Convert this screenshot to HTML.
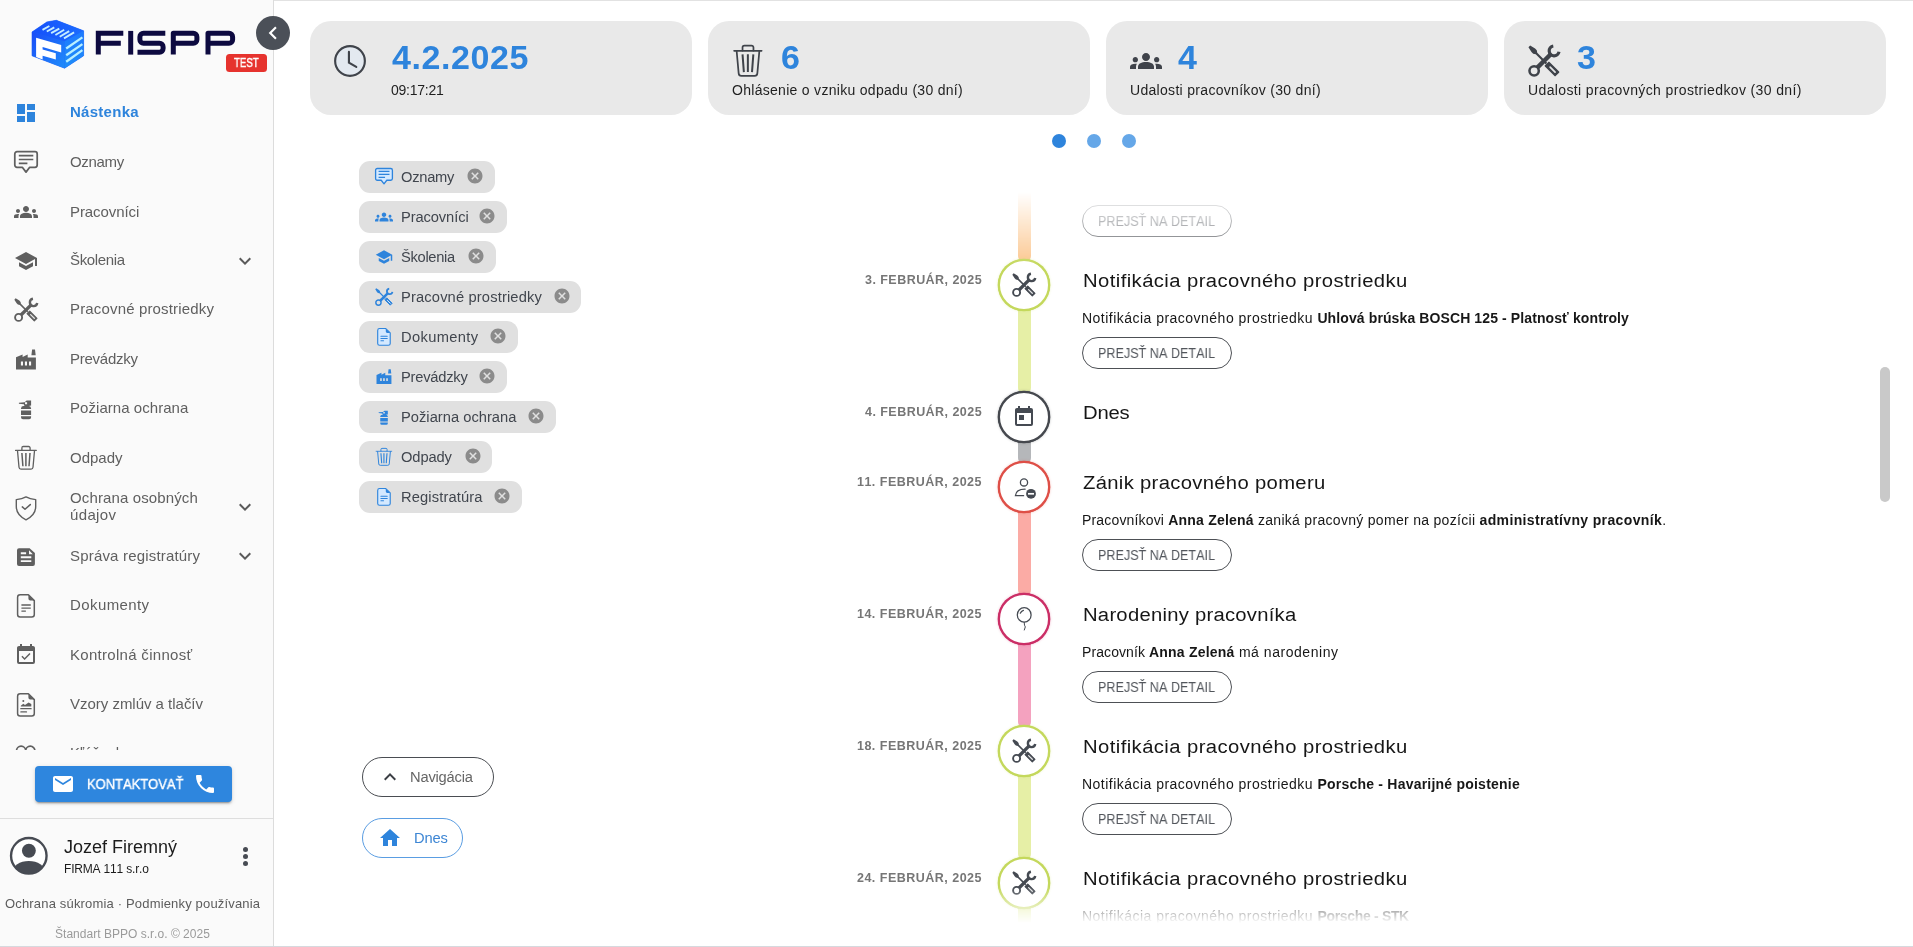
<!DOCTYPE html>
<html lang="sk"><head><meta charset="utf-8"><title>FISPP</title>
<style>
*{box-sizing:border-box;margin:0;padding:0}
html,body{width:1913px;height:947px;overflow:hidden;background:#fff;font-family:"Liberation Sans",sans-serif;}
body{position:relative}
.t{position:absolute;white-space:nowrap;line-height:1;font-kerning:none;will-change:transform}
.ic{position:absolute;display:block;overflow:visible}
.abs{position:absolute}
#side{position:absolute;left:0;top:0;width:274px;height:947px;background:#fafafa;border-right:1px solid #dcdcdc}
#nav{position:absolute;left:0;top:84px;width:273px;height:666px;overflow:hidden}
.card{position:absolute;top:21px;width:382px;height:94px;background:#e9e9e9;border-radius:21px}
.chip{position:absolute;left:359px;height:32px;border-radius:11px;background:#e0e0e0}
.pill{position:absolute;border:1px solid #4a4d52;border-radius:20px;background:#fff}
.seg{position:absolute;left:1018px;width:13px;border-radius:6px}
.dot{position:absolute;left:998px;width:52px;height:52px;border-radius:50%;background:#fff;border:2px solid #c5d94f}
#tl{position:absolute;left:820px;top:192px;width:1060px;height:734px;overflow:hidden;
 -webkit-mask-image:linear-gradient(to bottom,transparent 0,#000 73px,#000 695px,transparent 731px);
 mask-image:linear-gradient(to bottom,transparent 0,#000 73px,#000 695px,transparent 731px)}
#tli{position:absolute;left:-820px;top:-192px;width:1913px;height:947px}
</style></head><body>

<div class="abs" style="left:0;top:0;width:1913px;height:1px;background:#e2e2e2"></div>
<div id="side">
<svg class="ic" style="left:30px;top:18px;width:58px;height:54px" viewBox="30 18 58 54">
<defs><linearGradient id="lg1" x1="0" y1="0" x2="1" y2="1"><stop offset="0" stop-color="#1a4cf8"/><stop offset="1" stop-color="#1f8cfa"/></linearGradient>
<linearGradient id="lg2" x1="0" y1="0" x2="0" y2="1"><stop offset="0" stop-color="#1d7bff"/><stop offset="1" stop-color="#1f8df8"/></linearGradient>
<linearGradient id="lg3" x1="0" y1="0" x2="1" y2="0"><stop offset="0" stop-color="#1650fa"/><stop offset="1" stop-color="#1b6cff"/></linearGradient></defs>
<path fill="#1c62f8" stroke="#1c62f8" stroke-width=".6" d="M32 32L46.900 21.900L56.400 20.300L83.600 30.800V55.800L64.600 68.200L32 55.800Z"/>
<path fill="url(#lg3)" d="M32 32L46.900 21.900L56.400 20.300L83.600 30.800L64.600 41.300Z"/>
<path fill="url(#lg1)" d="M32 32L64.600 41.300V68.200L32 55.800Z"/>
<path fill="url(#lg2)" d="M64.600 41.300L83.600 30.800V55.800L64.600 68.200Z"/>
<g stroke="#c4ecff" stroke-width="1.900"><path d="M42.500 29.800L49.400 26M46.800 31.500L54.300 27.300M51.100 33.200L59.300 28.600M55.400 35L64.200 29.800M59.700 36.700L69.200 31.100M64 38.400L74.100 32.400"/></g>
<g stroke="#b8efff" stroke-width="2.300"><path d="M66.200 48.500L82.400 37.400M66.200 55.200L82.400 44.100M66.200 61.800L82.400 50.100"/></g>
<path fill="#fff" d="M36.100 37.800L61.200 45V52.600L42.600 47V49.400L55.800 53.200V59.600L42.600 55.800V59.400L36.100 57Z"/>
</svg>
<svg class="ic" style="left:92px;top:28px;width:148px;height:30px" viewBox="92 28 148 30">
<g fill="none" stroke="#0d0a40" stroke-width="5" stroke-linejoin="round">
<path stroke-linejoin="miter" d="M98.300 54.600V33.300H123.300M98.300 43.300H120.800"/>
<path d="M130.700 30.900V54.600"/>
<path d="M165.300 33.300H143.500a3.600 3.600 0 0 0-3.600 3.600v2.800a3.600 3.600 0 0 0 3.600 3.600H159.500a3.600 3.600 0 0 1 3.600 3.600v1.700a3.600 3.600 0 0 1-3.600 3.600H137.500"/>
<path d="M173.300 54.600V33.300H193.300a3.600 3.600 0 0 1 3.600 3.600v2.800a3.600 3.600 0 0 1-3.600 3.600H173.300"/>
<path d="M208 54.600V33.300H229a3.600 3.600 0 0 1 3.600 3.600v2.800a3.600 3.600 0 0 1-3.600 3.600H208"/>
</g></svg>
<div class="abs" style="left:226px;top:54px;width:41px;height:18px;background:#e6332e;border-radius:3.500px"></div>
<span id="t1" class="t" style="left:233.60px;top:57px;font-size:12px;font-weight:400;color:#fff;letter-spacing:0.000px;transform:scaleX(0.8073);transform-origin:0 0;-webkit-text-stroke:.450px #fff;">TEST</span>
<div id="nav"><div class="abs" style="left:0;top:-84px;width:273px;height:947px">
<svg class="ic" style="left:14px;top:100.5px;width:24px;height:24px;color:#2e84dc;" viewBox="0 0 24 24"><path fill="currentColor" d="M13,3V9H21V3M13,21H21V11H13M3,21H11V15H3M3,13H11V3H3V13Z"/></svg>
<span id="t2" class="t" style="left:70.10px;top:104px;font-size:15px;font-weight:700;color:#2e84dc;letter-spacing:0.277px;">Nástenka</span>
<svg class="ic" style="left:14px;top:150.5px;width:24px;height:24px;color:#5f5f5f;" viewBox="0 0 24 24"><path fill="none" stroke="currentColor" stroke-width="1.750" stroke-linejoin="round" d="M3 .700h18a2.200 2.200 0 0 1 2.200 2.200v11.200a2.200 2.200 0 0 1-2.200 2.200h-5.300l-3.700 4.800l-3.700-4.800H3a2.200 2.200 0 0 1-2.200-2.200V2.900A2.200 2.200 0 0 1 3 .700Z"/><path fill="none" stroke="currentColor" stroke-width="1.600" d="M4.800 4.600h14.500M4.800 8.500h14.500M4.800 12.400h8.600"/></svg>
<span id="t3" class="t" style="left:70.10px;top:154px;font-size:15px;font-weight:400;color:#5f5f5f;letter-spacing:-0.329px;">Oznamy</span>
<svg class="ic" style="left:14px;top:199.6px;width:24px;height:24px;color:#5f5f5f;" viewBox="0 0 24 24"><path fill="currentColor" d="M12 12.75c1.63 0 3.07.39 4.24.9 1.08.48 1.76 1.56 1.76 2.73V18H6v-1.61c0-1.18.68-2.26 1.76-2.73 1.17-.52 2.61-.91 4.24-.91zM4 13c1.1 0 2-.9 2-2s-.9-2-2-2-2 .9-2 2 .9 2 2 2zm1.13 1.1c-.37-.06-.74-.1-1.13-.1-.99 0-1.93.21-2.78.58C.48 14.9 0 15.62 0 16.43V18h4.5v-1.61c0-.83.23-1.61.63-2.29zM20 13c1.1 0 2-.9 2-2s-.9-2-2-2-2 .9-2 2 .9 2 2 2zm4 3.43c0-.81-.48-1.53-1.22-1.85-.85-.37-1.79-.58-2.78-.58-.39 0-.76.04-1.13.1.4.68.63 1.46.63 2.29V18H24v-1.57zM12 6c1.66 0 3 1.34 3 3s-1.34 3-3 3-3-1.34-3-3 1.34-3 3-3z"/></svg>
<span id="t4" class="t" style="left:70.10px;top:204px;font-size:15px;font-weight:400;color:#5f5f5f;letter-spacing:-0.077px;">Pracovníci</span>
<svg class="ic" style="left:14px;top:249.0px;width:24px;height:24px;color:#5f5f5f;" viewBox="0 0 24 24"><path fill="currentColor" d="M12,3L1,9L12,15L21,10.09V17H23V9M5,13.18V17.18L12,21L19,17.18V13.18L12,17L5,13.18Z"/></svg>
<span id="t5" class="t" style="left:70.10px;top:252px;font-size:15px;font-weight:400;color:#5f5f5f;letter-spacing:-0.342px;">Školenia</span>
<svg class="ic" style="left:233px;top:248.6px;width:24px;height:24px;color:#5a5a5a;" viewBox="0 0 24 24"><path fill="currentColor" d="M7.410,8.580L12,13.170L16.590,8.580L18,10L12,16L6,10L7.410,8.580Z"/></svg>
<svg class="ic" style="left:14px;top:298.0px;width:24px;height:24px;color:#5f5f5f;" viewBox="0 0 24 24"><path fill="currentColor" d="M1.630 .350L5.300 2.620L6.580 3.890L6.930 5.800L14.350 13.220L13.220 14.350L5.800 6.930L3.890 6.580L2.620 5.300L.350 1.630Z"/><path fill="currentColor" stroke="currentColor" stroke-width="1.200" stroke-linejoin="round" d="M15.700 13.100L22.900 20.300L20.300 22.900L13.100 15.700Z"/><path fill="none" stroke="#fff" stroke-opacity=".85" stroke-width="1.300" stroke-linecap="round" d="M16.600 16.600L20.300 20.300"/><g fill="none" stroke="currentColor"><path stroke-width="3.300" d="M7 17L17.600 6.400"/><circle cx="4.600" cy="19.400" r="3.500" stroke-width="1.900"/><path stroke-width="2.400" d="M18.960 .760A3.700 3.700 0 1 0 23.240 5.040"/></g></svg>
<span id="t6" class="t" style="left:70.10px;top:301px;font-size:15px;font-weight:400;color:#5f5f5f;letter-spacing:0.158px;">Pracovné prostriedky</span>
<svg class="ic" style="left:14px;top:347.5px;width:24px;height:24px;color:#5f5f5f;" viewBox="0 0 24 24"><path fill="currentColor" fill-rule="evenodd" d="M2 21.400V9.300L8.600 6.400V8.900L13.700 6.400V9.600H21.900V21.400ZM6.900 13.500v3.900h2.100v-3.900ZM10.900 13.500v3.900h2.100v-3.900ZM15 13.500v3.900h2.100v-3.900ZM18.100 1.600h2.900l.7 5.700h-4.300Z"/></svg>
<span id="t7" class="t" style="left:70.10px;top:351px;font-size:15px;font-weight:400;color:#5f5f5f;letter-spacing:-0.253px;">Prevádzky</span>
<svg class="ic" style="left:14px;top:396.8px;width:24px;height:24px;color:#5f5f5f;" viewBox="0 0 24 24"><path fill="currentColor" fill-rule="evenodd" d="M4.900 5.700L10.600 5.200L12.600 3.600H17.100V8.600L14.600 9.100H10.500L9.800 7.200L4.900 6.700ZM11 5.200h2.100v2.100h-2.100ZM7 12.100V11.400a2.600 2.600 0 0 1 2.600-2.400h4.900a2.600 2.600 0 0 1 2.600 2.400V12.100ZM7 13.400H17.100V18H7ZM7 19.300H17.100V20.300a2 2 0 0 1-2 2H9a2 2 0 0 1-2-2Z"/></svg>
<span id="t8" class="t" style="left:70.10px;top:400px;font-size:15px;font-weight:400;color:#5f5f5f;letter-spacing:0.051px;">Požiarna ochrana</span>
<svg class="ic" style="left:14px;top:446.1px;width:24px;height:24px;color:#5f5f5f;" viewBox="0 0 24 24"><g fill="none" stroke="currentColor" stroke-linecap="round" stroke-linejoin="round"><path stroke-width="1.300" d="M7.900 4.200V1.900a1.400 1.400 0 0 1 1.400-1.400h5.400a1.400 1.400 0 0 1 1.400 1.400V4.200"/><path stroke-width="1.150" d="M1.500 4.400H22.300"/><path stroke-width="1.300" d="M3.500 4.700L5 21.300a2 2 0 0 0 2 1.800H17a2 2 0 0 0 2-1.800L20.500 4.700"/><path stroke-width="1.500" stroke-linecap="butt" d="M7.900 7L8.900 20.300M11.900 7V20.300M16 7L15 20.300"/></g></svg>
<span id="t9" class="t" style="left:70.10px;top:450px;font-size:15px;font-weight:400;color:#5f5f5f;letter-spacing:-0.007px;">Odpady</span>
<svg class="ic" style="left:14px;top:495.5px;width:24px;height:24px;color:#5f5f5f;" viewBox="0 0 24 24"><g fill="none" stroke="currentColor" stroke-linejoin="round" stroke-linecap="round"><path stroke-width="1.400" d="M12 .9C9 2.600 5.500 3.300 2.300 3.600V10.500c0 6 3.800 10.400 9.700 13.300c5.900-2.900 9.700-7.300 9.700-13.300V3.600C18.500 3.300 15 2.600 12 .9Z"/><path stroke-width="1.500" d="M8.300 10.900l2.700 2.400L16.300 8.600"/></g></svg>
<span id="t10" class="t" style="left:70.10px;top:490px;font-size:15px;font-weight:400;color:#5f5f5f;letter-spacing:0.129px;">Ochrana osobných</span>
<span id="t11" class="t" style="left:70.10px;top:507px;font-size:15px;font-weight:400;color:#5f5f5f;letter-spacing:0.360px;">údajov</span>
<svg class="ic" style="left:233px;top:495.1px;width:24px;height:24px;color:#5a5a5a;" viewBox="0 0 24 24"><path fill="currentColor" d="M7.410,8.580L12,13.170L16.590,8.580L18,10L12,16L6,10L7.410,8.580Z"/></svg>
<svg class="ic" style="left:14px;top:544.8px;width:24px;height:24px;color:#5f5f5f;" viewBox="0 0 24 24"><path fill="currentColor" fill-rule="evenodd" d="M5 3.200h10.600L20.900 8.100V19a2 2 0 0 1-2 2H5a2 2 0 0 1-2-2V5.200a2 2 0 0 1 2-2ZM6.800 7.300h5.300v1.900H6.800ZM6.800 11.300h10.500v1.900H6.800ZM6.800 15.200h10.500v1.900H6.800ZM15 5.300L18.800 9.150H15Z"/></svg>
<span id="t12" class="t" style="left:70.10px;top:548px;font-size:15px;font-weight:400;color:#5f5f5f;letter-spacing:0.182px;">Správa registratúry</span>
<svg class="ic" style="left:233px;top:544.4px;width:24px;height:24px;color:#5a5a5a;" viewBox="0 0 24 24"><path fill="currentColor" d="M7.410,8.580L12,13.170L16.590,8.580L18,10L12,16L6,10L7.410,8.580Z"/></svg>
<svg class="ic" style="left:14px;top:594.1px;width:24px;height:24px;color:#5f5f5f;" viewBox="0 0 24 24"><path fill="none" stroke="currentColor" stroke-width="1.500" stroke-linejoin="round" d="M6.100 .7h8.300l5.900 5.900v13.900a2.500 2.500 0 0 1-2.500 2.500H6.100a2.500 2.500 0 0 1-2.500-2.500V3.200a2.500 2.500 0 0 1 2.500-2.500Z"/><path fill="currentColor" d="M14.400 .9V4.600a1.900 1.900 0 0 0 1.900 1.900h3.900Z"/><path fill="none" stroke="currentColor" stroke-width="1.400" stroke-linecap="round" d="M7.900 11h8.400M7.900 14.100h8.400M7.900 17.100h3.500"/></svg>
<span id="t13" class="t" style="left:70.10px;top:597px;font-size:15px;font-weight:400;color:#5f5f5f;letter-spacing:0.404px;">Dokumenty</span>
<svg class="ic" style="left:14px;top:642.5px;width:24px;height:24px;color:#5f5f5f;" viewBox="0 0 24 24"><path fill="currentColor" d="M19,19H5V8H19M19,3H18V1H16V3H8V1H6V3H5C3.890,3 3,3.890 3,5V19A2,2 0 0,0 5,21H19A2,2 0 0,0 21,19V5C21,3.890 20.100,3 19,3M16.530,11.060L15.470,10L10.590,14.880L8.470,12.760L7.410,13.820L10.590,17L16.530,11.060Z"/></svg>
<span id="t14" class="t" style="left:70.10px;top:647px;font-size:15px;font-weight:400;color:#5f5f5f;letter-spacing:0.298px;">Kontrolná činnosť</span>
<svg class="ic" style="left:14px;top:692.8px;width:24px;height:24px;color:#5f5f5f;" viewBox="0 0 24 24"><path fill="none" stroke="currentColor" stroke-width="1.500" stroke-linejoin="round" d="M6.100 .7h8.300l5.900 5.900v13.900a2.500 2.500 0 0 1-2.500 2.500H6.100a2.500 2.500 0 0 1-2.500-2.500V3.200a2.500 2.500 0 0 1 2.500-2.500Z"/><path fill="currentColor" d="M14.400 .9V4.600a1.900 1.900 0 0 0 1.900 1.900h3.900Z"/><path fill="none" stroke="currentColor" stroke-width="1.300" stroke-linecap="round" d="M6.800 15.700h10.300M6.900 18.900h5.600"/><path fill="currentColor" d="M6.800 12.800L9.300 10.800L11 11.900L14.600 9.400L17.300 11V13.400H6.800Z"/><circle cx="9.300" cy="8.100" r="1" fill="currentColor"/></svg>
<span id="t15" class="t" style="left:70.10px;top:696px;font-size:15px;font-weight:400;color:#5f5f5f;letter-spacing:-0.019px;">Vzory zmlúv a tlačív</span>
<svg class="ic" style="left:14px;top:742.1px;width:24px;height:24px;color:#5f5f5f;" viewBox="0 0 24 24"><path fill="none" stroke="currentColor" stroke-width="1.700" d="M2.500 8.800a4.600 4.600 0 0 1 9.200 0a4.600 4.600 0 0 1 9.200 0"/></svg>
<span id="t16" class="t" style="left:70.10px;top:745px;font-size:15px;font-weight:400;color:#5f5f5f;letter-spacing:-0.201px;">Kľúčenky</span>
</div></div>
<div class="abs" style="left:35px;top:766px;width:197px;height:36px;background:#2e86de;border-radius:4px;box-shadow:0 3px 1px -2px rgba(0,0,0,.2),0 2px 2px 0 rgba(0,0,0,.14),0 1px 5px 0 rgba(0,0,0,.12)"></div>
<svg class="ic" style="left:50.7px;top:772px;width:24px;height:24px;color:#fff;" viewBox="0 0 24 24"><path fill="currentColor" d="M20,4H4C2.900,4 2,4.900 2,6V18C2,19.100 2.900,20 4,20H20C21.100,20 22,19.100 22,18V6C22,4.900 21.100,4 20,4M20,8L12,13L4,8V6L12,11L20,6V8Z"/></svg>
<span id="t17" class="t" style="left:87.00px;top:777px;font-size:14px;font-weight:400;color:#fff;letter-spacing:0.000px;transform:scaleX(0.9259);transform-origin:0 0;-webkit-text-stroke:.400px #fff;">KONTAKTOVAŤ</span>
<svg class="ic" style="left:192.5px;top:772px;width:24px;height:24px;color:#fff;" viewBox="0 0 24 24"><path fill="currentColor" d="M6.620,10.790C8.060,13.620 10.380,15.940 13.210,17.380L15.410,15.180C15.690,14.900 16.080,14.820 16.430,14.930C17.550,15.300 18.750,15.500 20,15.500A1,1 0 0,1 21,16.500V20A1,1 0 0,1 20,21A17,17 0 0,1 3,4A1,1 0 0,1 4,3H7.500A1,1 0 0,1 8.500,4C8.500,5.250 8.700,6.450 9.070,7.570C9.180,7.920 9.100,8.310 8.820,8.590L6.620,10.790Z"/></svg>
<div class="abs" style="left:0;top:818px;width:273px;height:1px;background:#dedede"></div>
<svg class="ic" style="left:6.2px;top:832.9px;width:45.6px;height:45.6px;color:#474b53;" viewBox="0 0 24 24"><defs><clipPath id="avc"><circle cx="12" cy="12" r="9.400"/></clipPath></defs><circle cx="12" cy="12" r="9.350" fill="#fff" stroke="currentColor" stroke-width="1.250"/><circle cx="12.050" cy="9.350" r="3.650" fill="currentColor"/><ellipse cx="12" cy="20.500" rx="8.600" ry="5.800" fill="currentColor" clip-path="url(#avc)"/></svg>
<span id="t18" class="t" style="left:63.70px;top:838px;font-size:18px;font-weight:400;color:#1c1c1c;letter-spacing:-0.002px;">Jozef Firemný</span>
<span id="t19" class="t" style="left:63.70px;top:863px;font-size:12px;font-weight:400;color:#1c1c1c;letter-spacing:-0.177px;">FIRMA 111 s.r.o</span>
<div class="abs" style="left:242.500px;top:846.5px;width:5px;height:5px;border-radius:50%;background:#474b53"></div>
<div class="abs" style="left:242.500px;top:853.7px;width:5px;height:5px;border-radius:50%;background:#474b53"></div>
<div class="abs" style="left:242.500px;top:860.9px;width:5px;height:5px;border-radius:50%;background:#474b53"></div>
<span id="t20" class="t" style="left:5.20px;top:897px;font-size:13px;font-weight:400;color:#5c5c5c;letter-spacing:0.170px;">Ochrana súkromia · Podmienky používania</span>
<span id="t21" class="t" style="left:55.20px;top:928px;font-size:12px;font-weight:400;color:#9a9a9a;letter-spacing:0.024px;">Štandart BPPO s.r.o. © 2025</span>
</div>
<div class="abs" style="left:256px;top:16px;width:34px;height:34px;border-radius:50%;background:#4b5058"></div>
<svg class="ic" style="left:260.2px;top:20.2px;width:26px;height:26px;color:#fff;" viewBox="0 0 24 24"><path fill="currentColor" d="M15.410,16.580L10.830,12L15.410,7.410L14,6L8,12L14,18L15.410,16.580Z"/></svg>
<div class="card" style="left:310px"></div>
<div class="card" style="left:708px"></div>
<div class="card" style="left:1106px"></div>
<div class="card" style="left:1504px"></div>
<svg class="ic" style="left:334px;top:45px;width:32px;height:32px;color:#3f434a;" viewBox="0 0 24 24"><circle cx="12" cy="12" r="11.150" fill="#dfeaf6" fill-opacity=".55" stroke="currentColor" stroke-width="1.600"/><path fill="none" stroke="currentColor" stroke-width="1.600" stroke-linecap="round" d="M11.200 5.200V13.300L16.700 16.400"/></svg>
<span id="t22" class="t" style="left:391.70px;top:40px;font-size:34px;font-weight:700;color:#2e84dc;letter-spacing:0.566px;">4.2.2025</span>
<span id="t23" class="t" style="left:391.20px;top:83px;font-size:14px;font-weight:400;color:#1f1f1f;letter-spacing:-0.244px;">09:17:21</span>
<svg class="ic" style="left:732px;top:45px;width:32px;height:32px;color:#3f434a;" viewBox="0 0 24 24"><g fill="none" stroke="currentColor" stroke-linecap="round" stroke-linejoin="round"><path stroke-width="1.300" d="M7.900 4.200V1.900a1.400 1.400 0 0 1 1.400-1.400h5.400a1.400 1.400 0 0 1 1.400 1.400V4.200"/><path stroke-width="1.150" d="M1.500 4.400H22.300"/><path stroke-width="1.300" d="M3.500 4.700L5 21.300a2 2 0 0 0 2 1.800H17a2 2 0 0 0 2-1.800L20.500 4.700"/><path stroke-width="1.500" stroke-linecap="butt" d="M7.900 7L8.900 20.300M11.900 7V20.300M16 7L15 20.300"/></g></svg>
<span id="t24" class="t" style="left:780.90px;top:40px;font-size:34px;font-weight:700;color:#2e84dc;letter-spacing:0.000px;">6</span>
<span id="t25" class="t" style="left:732.00px;top:83px;font-size:14px;font-weight:400;color:#1f1f1f;letter-spacing:0.292px;">Ohlásenie o vzniku odpadu (30 dní)</span>
<svg class="ic" style="left:1130px;top:45px;width:32px;height:32px;color:#3f434a;" viewBox="0 0 24 24"><path fill="currentColor" d="M12 12.75c1.63 0 3.07.39 4.24.9 1.08.48 1.76 1.56 1.76 2.73V18H6v-1.61c0-1.18.68-2.26 1.76-2.73 1.17-.52 2.61-.91 4.24-.91zM4 13c1.1 0 2-.9 2-2s-.9-2-2-2-2 .9-2 2 .9 2 2 2zm1.13 1.1c-.37-.06-.74-.1-1.13-.1-.99 0-1.93.21-2.78.58C.48 14.9 0 15.62 0 16.43V18h4.5v-1.61c0-.83.23-1.61.63-2.29zM20 13c1.1 0 2-.9 2-2s-.9-2-2-2-2 .9-2 2 .9 2 2 2zm4 3.43c0-.81-.48-1.53-1.22-1.85-.85-.37-1.79-.58-2.78-.58-.39 0-.76.04-1.13.1.4.68.63 1.46.63 2.29V18H24v-1.57zM12 6c1.66 0 3 1.34 3 3s-1.34 3-3 3-3-1.34-3-3 1.34-3 3-3z"/></svg>
<span id="t26" class="t" style="left:1178.20px;top:40px;font-size:34px;font-weight:700;color:#2e84dc;letter-spacing:0.000px;">4</span>
<span id="t27" class="t" style="left:1130.00px;top:83px;font-size:14px;font-weight:400;color:#1f1f1f;letter-spacing:0.306px;">Udalosti pracovníkov (30 dní)</span>
<svg class="ic" style="left:1528px;top:45px;width:32px;height:32px;color:#3f434a;" viewBox="0 0 24 24"><path fill="currentColor" d="M1.630 .350L5.300 2.620L6.580 3.890L6.930 5.800L14.350 13.220L13.220 14.350L5.800 6.930L3.890 6.580L2.620 5.300L.350 1.630Z"/><path fill="currentColor" stroke="currentColor" stroke-width="1.200" stroke-linejoin="round" d="M15.700 13.100L22.900 20.300L20.300 22.900L13.100 15.700Z"/><path fill="none" stroke="#fff" stroke-opacity=".85" stroke-width="1.300" stroke-linecap="round" d="M16.600 16.600L20.300 20.300"/><g fill="none" stroke="currentColor"><path stroke-width="3.300" d="M7 17L17.600 6.400"/><circle cx="4.600" cy="19.400" r="3.500" stroke-width="1.900"/><path stroke-width="2.400" d="M18.960 .760A3.700 3.700 0 1 0 23.240 5.040"/></g></svg>
<span id="t28" class="t" style="left:1576.90px;top:40px;font-size:34px;font-weight:700;color:#2e84dc;letter-spacing:0.000px;">3</span>
<span id="t29" class="t" style="left:1528.00px;top:83px;font-size:14px;font-weight:400;color:#1f1f1f;letter-spacing:0.378px;">Udalosti pracovných prostriedkov (30 dní)</span>
<div class="abs" style="left:1052px;top:134.4px;width:14px;height:14px;border-radius:50%;background:#2e84dc"></div>
<div class="abs" style="left:1087px;top:134.4px;width:14px;height:14px;border-radius:50%;background:#65a7e8"></div>
<div class="abs" style="left:1122px;top:134.4px;width:14px;height:14px;border-radius:50%;background:#65a7e8"></div>
<div class="chip" style="top:161px;width:136.2px"></div>
<svg class="ic" style="left:375px;top:168px;width:18px;height:18px;color:#2e84dc;" viewBox="0 0 24 24"><path fill="#d4e9ff" stroke="currentColor" stroke-width="1.750" stroke-linejoin="round" d="M3 .700h18a2.200 2.200 0 0 1 2.200 2.200v11.200a2.200 2.200 0 0 1-2.200 2.200h-5.300l-3.700 4.800l-3.700-4.800H3a2.200 2.200 0 0 1-2.200-2.200V2.900A2.200 2.200 0 0 1 3 .700Z"/><path fill="none" stroke="currentColor" stroke-width="1.600" d="M4.800 4.600h14.500M4.800 8.500h14.500M4.800 12.400h8.600"/></svg>
<span id="t30" class="t" style="left:401.00px;top:170px;font-size:14.7px;font-weight:400;color:#41464e;letter-spacing:-0.268px;">Oznamy</span>
<svg class="ic" style="left:466.0px;top:166.8px;width:18px;height:18px;color:#8b8b8b;" viewBox="0 0 24 24"><path fill="currentColor" d="M12,2C17.530,2 22,6.470 22,12C22,17.530 17.530,22 12,22C6.470,22 2,17.530 2,12C2,6.470 6.470,2 12,2M15.590,7L12,10.590L8.410,7L7,8.410L10.590,12L7,15.590L8.410,17L12,13.410L15.590,17L17,15.590L13.410,12L17,8.410L15.590,7Z"/></svg>
<div class="chip" style="top:201px;width:148.0px"></div>
<svg class="ic" style="left:375px;top:208px;width:18px;height:18px;color:#2e84dc;" viewBox="0 0 24 24"><path fill="currentColor" d="M12 12.75c1.63 0 3.07.39 4.24.9 1.08.48 1.76 1.56 1.76 2.73V18H6v-1.61c0-1.18.68-2.26 1.76-2.73 1.17-.52 2.61-.91 4.24-.91zM4 13c1.1 0 2-.9 2-2s-.9-2-2-2-2 .9-2 2 .9 2 2 2zm1.13 1.1c-.37-.06-.74-.1-1.13-.1-.99 0-1.93.21-2.78.58C.48 14.9 0 15.62 0 16.43V18h4.5v-1.61c0-.83.23-1.61.63-2.29zM20 13c1.1 0 2-.9 2-2s-.9-2-2-2-2 .9-2 2 .9 2 2 2zm4 3.43c0-.81-.48-1.53-1.22-1.85-.85-.37-1.79-.58-2.78-.58-.39 0-.76.04-1.13.1.4.68.63 1.46.63 2.29V18H24v-1.57zM12 6c1.66 0 3 1.34 3 3s-1.34 3-3 3-3-1.34-3-3 1.34-3 3-3z"/></svg>
<span id="t31" class="t" style="left:401.00px;top:210px;font-size:14.7px;font-weight:400;color:#41464e;letter-spacing:-0.101px;">Pracovníci</span>
<svg class="ic" style="left:478.4px;top:206.8px;width:18px;height:18px;color:#8b8b8b;" viewBox="0 0 24 24"><path fill="currentColor" d="M12,2C17.530,2 22,6.470 22,12C22,17.530 17.530,22 12,22C6.470,22 2,17.530 2,12C2,6.470 6.470,2 12,2M15.590,7L12,10.590L8.410,7L7,8.410L10.590,12L7,15.590L8.410,17L12,13.410L15.590,17L17,15.590L13.410,12L17,8.410L15.590,7Z"/></svg>
<div class="chip" style="top:241px;width:137.0px"></div>
<svg class="ic" style="left:375px;top:248px;width:18px;height:18px;color:#2e84dc;" viewBox="0 0 24 24"><path fill="currentColor" d="M12,3L1,9L12,15L21,10.09V17H23V9M5,13.18V17.18L12,21L19,17.18V13.18L12,17L5,13.18Z"/></svg>
<span id="t32" class="t" style="left:401.00px;top:250px;font-size:14.7px;font-weight:400;color:#41464e;letter-spacing:-0.310px;">Školenia</span>
<svg class="ic" style="left:467.0px;top:246.8px;width:18px;height:18px;color:#8b8b8b;" viewBox="0 0 24 24"><path fill="currentColor" d="M12,2C17.530,2 22,6.470 22,12C22,17.530 17.530,22 12,22C6.470,22 2,17.530 2,12C2,6.470 6.470,2 12,2M15.590,7L12,10.590L8.410,7L7,8.410L10.590,12L7,15.590L8.410,17L12,13.410L15.590,17L17,15.590L13.410,12L17,8.410L15.590,7Z"/></svg>
<div class="chip" style="top:281px;width:222.0px"></div>
<svg class="ic" style="left:375px;top:288px;width:18px;height:18px;color:#2e84dc;" viewBox="0 0 24 24"><path fill="currentColor" d="M1.630 .350L5.300 2.620L6.580 3.890L6.930 5.800L14.350 13.220L13.220 14.350L5.800 6.930L3.890 6.580L2.620 5.300L.350 1.630Z"/><path fill="currentColor" stroke="currentColor" stroke-width="1.200" stroke-linejoin="round" d="M15.700 13.100L22.900 20.300L20.300 22.900L13.100 15.700Z"/><path fill="none" stroke="#fff" stroke-opacity=".85" stroke-width="1.300" stroke-linecap="round" d="M16.600 16.600L20.300 20.300"/><g fill="none" stroke="currentColor"><path stroke-width="3.300" d="M7 17L17.600 6.400"/><circle cx="4.600" cy="19.400" r="3.500" stroke-width="1.900"/><path stroke-width="2.400" d="M18.960 .760A3.700 3.700 0 1 0 23.240 5.040"/></g></svg>
<span id="t33" class="t" style="left:401.00px;top:290px;font-size:14.7px;font-weight:400;color:#41464e;letter-spacing:0.152px;">Pracovné prostriedky</span>
<svg class="ic" style="left:552.5px;top:286.8px;width:18px;height:18px;color:#8b8b8b;" viewBox="0 0 24 24"><path fill="currentColor" d="M12,2C17.530,2 22,6.470 22,12C22,17.530 17.530,22 12,22C6.470,22 2,17.530 2,12C2,6.470 6.470,2 12,2M15.590,7L12,10.590L8.410,7L7,8.410L10.590,12L7,15.590L8.410,17L12,13.410L15.590,17L17,15.590L13.410,12L17,8.410L15.590,7Z"/></svg>
<div class="chip" style="top:321px;width:159.0px"></div>
<svg class="ic" style="left:375px;top:328px;width:18px;height:18px;color:#2e84dc;" viewBox="0 0 24 24"><path fill="#d4e9ff" stroke="currentColor" stroke-width="1.500" stroke-linejoin="round" d="M6.100 .7h8.300l5.900 5.900v13.900a2.500 2.500 0 0 1-2.500 2.500H6.100a2.500 2.500 0 0 1-2.500-2.500V3.200a2.500 2.500 0 0 1 2.500-2.500Z"/><path fill="currentColor" d="M14.400 .9V4.600a1.900 1.900 0 0 0 1.900 1.900h3.900Z"/><path fill="none" stroke="currentColor" stroke-width="1.400" stroke-linecap="round" d="M7.900 11h8.400M7.900 14.100h8.400M7.900 17.100h3.500"/></svg>
<span id="t34" class="t" style="left:401.00px;top:330px;font-size:14.7px;font-weight:400;color:#41464e;letter-spacing:0.357px;">Dokumenty</span>
<svg class="ic" style="left:488.8px;top:326.8px;width:18px;height:18px;color:#8b8b8b;" viewBox="0 0 24 24"><path fill="currentColor" d="M12,2C17.530,2 22,6.470 22,12C22,17.530 17.530,22 12,22C6.470,22 2,17.530 2,12C2,6.470 6.470,2 12,2M15.590,7L12,10.590L8.410,7L7,8.410L10.590,12L7,15.590L8.410,17L12,13.410L15.590,17L17,15.590L13.410,12L17,8.410L15.590,7Z"/></svg>
<div class="chip" style="top:361px;width:148.0px"></div>
<svg class="ic" style="left:375px;top:368px;width:18px;height:18px;color:#2e84dc;" viewBox="0 0 24 24"><path fill="currentColor" fill-rule="evenodd" d="M2 21.400V9.300L8.600 6.400V8.900L13.700 6.400V9.600H21.900V21.400ZM6.900 13.500v3.900h2.100v-3.900ZM10.900 13.500v3.900h2.100v-3.900ZM15 13.500v3.900h2.100v-3.900ZM18.100 1.600h2.900l.7 5.700h-4.300Z"/></svg>
<span id="t35" class="t" style="left:401.00px;top:370px;font-size:14.7px;font-weight:400;color:#41464e;letter-spacing:-0.228px;">Prevádzky</span>
<svg class="ic" style="left:478.4px;top:366.8px;width:18px;height:18px;color:#8b8b8b;" viewBox="0 0 24 24"><path fill="currentColor" d="M12,2C17.530,2 22,6.470 22,12C22,17.530 17.530,22 12,22C6.470,22 2,17.530 2,12C2,6.470 6.470,2 12,2M15.590,7L12,10.590L8.410,7L7,8.410L10.590,12L7,15.590L8.410,17L12,13.410L15.590,17L17,15.590L13.410,12L17,8.410L15.590,7Z"/></svg>
<div class="chip" style="top:401px;width:197.0px"></div>
<svg class="ic" style="left:375px;top:408px;width:18px;height:18px;color:#2e84dc;" viewBox="0 0 24 24"><path fill="currentColor" fill-rule="evenodd" d="M4.900 5.700L10.600 5.200L12.600 3.600H17.100V8.600L14.600 9.100H10.500L9.800 7.200L4.900 6.700ZM11 5.200h2.100v2.100h-2.100ZM7 12.100V11.400a2.600 2.600 0 0 1 2.600-2.400h4.900a2.600 2.600 0 0 1 2.600 2.400V12.100ZM7 13.400H17.100V18H7ZM7 19.300H17.100V20.300a2 2 0 0 1-2 2H9a2 2 0 0 1-2-2Z"/></svg>
<span id="t36" class="t" style="left:401.00px;top:410px;font-size:14.7px;font-weight:400;color:#41464e;letter-spacing:0.016px;">Požiarna ochrana</span>
<svg class="ic" style="left:527.2px;top:406.8px;width:18px;height:18px;color:#8b8b8b;" viewBox="0 0 24 24"><path fill="currentColor" d="M12,2C17.530,2 22,6.470 22,12C22,17.530 17.530,22 12,22C6.470,22 2,17.530 2,12C2,6.470 6.470,2 12,2M15.590,7L12,10.590L8.410,7L7,8.410L10.590,12L7,15.590L8.410,17L12,13.410L15.590,17L17,15.590L13.410,12L17,8.410L15.590,7Z"/></svg>
<div class="chip" style="top:441px;width:133.0px"></div>
<svg class="ic" style="left:375px;top:448px;width:18px;height:18px;color:#2e84dc;" viewBox="0 0 24 24"><g fill="none" stroke="currentColor" stroke-linecap="round" stroke-linejoin="round"><path stroke-width="1.300" d="M7.900 4.200V1.900a1.400 1.400 0 0 1 1.400-1.400h5.400a1.400 1.400 0 0 1 1.400 1.400V4.200"/><path stroke-width="1.150" d="M1.500 4.400H22.300"/><path stroke-width="1.300" d="M3.500 4.700L5 21.300a2 2 0 0 0 2 1.800H17a2 2 0 0 0 2-1.800L20.500 4.700"/><path stroke-width="1.500" stroke-linecap="butt" d="M7.900 7L8.900 20.300M11.900 7V20.300M16 7L15 20.300"/></g></svg>
<span id="t37" class="t" style="left:401.00px;top:450px;font-size:14.7px;font-weight:400;color:#41464e;letter-spacing:-0.100px;">Odpady</span>
<svg class="ic" style="left:463.6px;top:446.8px;width:18px;height:18px;color:#8b8b8b;" viewBox="0 0 24 24"><path fill="currentColor" d="M12,2C17.530,2 22,6.470 22,12C22,17.530 17.530,22 12,22C6.470,22 2,17.530 2,12C2,6.470 6.470,2 12,2M15.590,7L12,10.590L8.410,7L7,8.410L10.590,12L7,15.590L8.410,17L12,13.410L15.590,17L17,15.590L13.410,12L17,8.410L15.590,7Z"/></svg>
<div class="chip" style="top:481px;width:163.0px"></div>
<svg class="ic" style="left:375px;top:488px;width:18px;height:18px;color:#2e84dc;" viewBox="0 0 24 24"><path fill="#d4e9ff" stroke="currentColor" stroke-width="1.500" stroke-linejoin="round" d="M6.100 .7h8.300l5.900 5.900v13.900a2.500 2.500 0 0 1-2.500 2.500H6.100a2.500 2.500 0 0 1-2.500-2.500V3.200a2.500 2.500 0 0 1 2.500-2.500Z"/><path fill="currentColor" d="M14.400 .9V4.600a1.900 1.900 0 0 0 1.900 1.900h3.900Z"/><path fill="none" stroke="currentColor" stroke-width="1.400" stroke-linecap="round" d="M7.900 11h8.400M7.900 14.100h8.400M7.900 17.100h3.500"/></svg>
<span id="t38" class="t" style="left:401.00px;top:490px;font-size:14.7px;font-weight:400;color:#41464e;letter-spacing:0.134px;">Registratúra</span>
<svg class="ic" style="left:493.3px;top:486.8px;width:18px;height:18px;color:#8b8b8b;" viewBox="0 0 24 24"><path fill="currentColor" d="M12,2C17.530,2 22,6.470 22,12C22,17.530 17.530,22 12,22C6.470,22 2,17.530 2,12C2,6.470 6.470,2 12,2M15.590,7L12,10.590L8.410,7L7,8.410L10.590,12L7,15.590L8.410,17L12,13.410L15.590,17L17,15.590L13.410,12L17,8.410L15.590,7Z"/></svg>
<div class="pill" style="left:362px;top:757px;width:132px;height:40px"></div>
<svg class="ic" style="left:378px;top:765px;width:24px;height:24px;color:#3b3e44;" viewBox="0 0 24 24"><path fill="currentColor" d="M7.410,15.410L12,10.830L16.590,15.410L18,14L12,8L6,14L7.410,15.410Z"/></svg>
<span id="t39" class="t" style="left:410.00px;top:770px;font-size:14.7px;font-weight:400;color:#666;letter-spacing:-0.191px;">Navigácia</span>
<div class="pill" style="left:362px;top:818px;width:101px;height:40px;border-color:#5a9de2"></div>
<svg class="ic" style="left:378px;top:826px;width:24px;height:24px;color:#2e84dc;" viewBox="0 0 24 24"><path fill="currentColor" d="M10,20V14H14V20H19V12H22L12,3L2,12H5V20H10Z"/></svg>
<span id="t40" class="t" style="left:414.00px;top:831px;font-size:14.7px;font-weight:400;color:#3d86d4;letter-spacing:-0.115px;">Dnes</span>
<div id="tl"><div id="tli">
<div class="seg" style="top:153px;height:109px;background:#fbc790"></div>
<div class="seg" style="top:285px;height:109px;background:#e6efa6"></div>
<div class="seg" style="top:417px;height:47px;background:#b5b7ba"></div>
<div class="seg" style="top:487px;height:109px;background:#fbaba5"></div>
<div class="seg" style="top:619px;height:109px;background:#f4a2bf"></div>
<div class="seg" style="top:751px;height:109px;background:#e6efa6"></div>
<div class="seg" style="top:883px;height:109px;background:#e6efa6"></div>
<div class="dot" style="top:127px;border-color:#f59a3c;box-shadow:0 0 0 .350px #f59a3c,0 0 2.500px #f59a3c77"></div>
<svg class="ic" style="left:1012.0px;top:141.3px;width:24px;height:24px;color:#454a52;" viewBox="0 0 24 24"><path fill="currentColor" d="M1.630 .350L5.300 2.620L6.580 3.890L6.930 5.800L14.350 13.220L13.220 14.350L5.800 6.930L3.890 6.580L2.620 5.300L.350 1.630Z"/><path fill="currentColor" stroke="currentColor" stroke-width="1.200" stroke-linejoin="round" d="M15.700 13.100L22.900 20.300L20.300 22.900L13.100 15.700Z"/><path fill="none" stroke="#fff" stroke-opacity=".85" stroke-width="1.300" stroke-linecap="round" d="M16.600 16.600L20.300 20.300"/><g fill="none" stroke="currentColor"><path stroke-width="3.300" d="M7 17L17.600 6.400"/><circle cx="4.600" cy="19.400" r="3.500" stroke-width="1.900"/><path stroke-width="2.400" d="M18.960 .760A3.700 3.700 0 1 0 23.240 5.040"/></g></svg>
<div class="pill" style="left:1082px;top:205px;width:150px;height:32px;border-radius:16px;border-color:#4d5055"></div>
<span id="t41" class="t" style="left:1098.20px;top:214px;font-size:14px;font-weight:400;color:#52565c;letter-spacing:0.000px;transform:scaleX(0.9006);transform-origin:0 0;">PREJSŤ NA DETAIL</span>
<div class="dot" style="top:259px;border-color:#c4d85c;box-shadow:0 0 0 .350px #c4d85c,0 0 2.500px #c4d85c77"></div>
<svg class="ic" style="left:1012.0px;top:273.3px;width:24px;height:24px;color:#454a52;" viewBox="0 0 24 24"><path fill="currentColor" d="M1.630 .350L5.300 2.620L6.580 3.890L6.930 5.800L14.350 13.220L13.220 14.350L5.800 6.930L3.890 6.580L2.620 5.300L.350 1.630Z"/><path fill="currentColor" stroke="currentColor" stroke-width="1.200" stroke-linejoin="round" d="M15.700 13.100L22.900 20.300L20.300 22.900L13.100 15.700Z"/><path fill="none" stroke="#fff" stroke-opacity=".85" stroke-width="1.300" stroke-linecap="round" d="M16.600 16.600L20.300 20.300"/><g fill="none" stroke="currentColor"><path stroke-width="3.300" d="M7 17L17.600 6.400"/><circle cx="4.600" cy="19.400" r="3.500" stroke-width="1.900"/><path stroke-width="2.400" d="M18.960 .760A3.700 3.700 0 1 0 23.240 5.040"/></g></svg>
<span id="t42" class="t" style="left:864.50px;top:274px;font-size:12.5px;font-weight:700;color:#767676;letter-spacing:0.459px;">3. FEBRUÁR, 2025</span>
<span id="t43" class="t" style="left:1082.70px;top:271px;font-size:19.2px;font-weight:400;color:#161616;letter-spacing:0.394px;transform:scaleX(1.0550);transform-origin:0 0;">Notifikácia pracovného prostriedku</span>
<span id="t46" class="t" style="left:1082.20px;top:311px;font-size:14px;font-weight:400;color:#171717;letter-spacing:0.000px;"><span id="d44" style="font-weight:400;letter-spacing:0.478px">Notifikácia&nbsp;pracovného&nbsp;prostriedku&nbsp;</span><span id="d45" style="font-weight:700;letter-spacing:0.107px">Uhlová brúska BOSCH 125 - Platnosť kontroly</span></span>
<div class="pill" style="left:1082px;top:337px;width:150px;height:32px;border-radius:16px;border-color:#4d5055"></div>
<span id="t47" class="t" style="left:1098.20px;top:346px;font-size:14px;font-weight:400;color:#52565c;letter-spacing:0.000px;transform:scaleX(0.9006);transform-origin:0 0;">PREJSŤ NA DETAIL</span>
<div class="dot" style="top:391px;border-color:#45484e;box-shadow:0 0 0 .350px #45484e,0 0 2.500px #45484e77"></div>
<svg class="ic" style="left:1012.0px;top:405.0px;width:24px;height:24px;color:#454a52;" viewBox="0 0 24 24"><path fill="currentColor" d="M7,10H12V15H7M19,19H5V8H19M19,3H18V1H16V3H8V1H6V3H5C3.890,3 3,3.900 3,5V19A2,2 0 0,0 5,21H19A2,2 0 0,0 21,19V5A2,2 0 0,0 19,3Z"/></svg>
<span id="t48" class="t" style="left:864.50px;top:406px;font-size:12.5px;font-weight:700;color:#767676;letter-spacing:0.459px;">4. FEBRUÁR, 2025</span>
<span id="t49" class="t" style="left:1082.70px;top:403px;font-size:19.2px;font-weight:400;color:#161616;letter-spacing:-0.182px;transform:scaleX(1.0550);transform-origin:0 0;">Dnes</span>
<div class="dot" style="top:461px;border-color:#de4f47;box-shadow:0 0 0 .350px #de4f47,0 0 2.500px #de4f4777"></div>
<svg class="ic" style="left:1012.0px;top:475.0px;width:24px;height:24px;color:#454a52;" viewBox="0 0 24 24"><g fill="none" stroke="currentColor" stroke-width="1.300" stroke-linecap="round"><circle cx="12" cy="7.400" r="3.600"/><path d="M13.100 14.200C8 14.200 3.800 16.400 3.400 20.700H11.600"/></g><circle cx="19" cy="18.800" r="4.900" fill="currentColor"/><path stroke="#fff" stroke-width="1.700" d="M16 18.800h6"/></svg>
<span id="t50" class="t" style="left:856.70px;top:476px;font-size:12.5px;font-weight:700;color:#767676;letter-spacing:0.484px;">11. FEBRUÁR, 2025</span>
<span id="t51" class="t" style="left:1082.70px;top:473px;font-size:19.2px;font-weight:400;color:#161616;letter-spacing:0.303px;transform:scaleX(1.0550);transform-origin:0 0;">Zánik pracovného pomeru</span>
<span id="t57" class="t" style="left:1082.20px;top:513px;font-size:14px;font-weight:400;color:#171717;letter-spacing:0.000px;"><span id="d52" style="font-weight:400;letter-spacing:0.167px">Pracovníkovi&nbsp;</span><span id="d53" style="font-weight:700;letter-spacing:0.205px">Anna Zelená</span><span id="d54" style="font-weight:400;letter-spacing:0.301px">&nbsp;zaniká&nbsp;pracovný&nbsp;pomer&nbsp;na&nbsp;pozícii&nbsp;</span><span id="d55" style="font-weight:700;letter-spacing:0.364px">administratívny pracovník</span><span id="d56" style="font-weight:400;letter-spacing:0.000px">.</span></span>
<div class="pill" style="left:1082px;top:539px;width:150px;height:32px;border-radius:16px;border-color:#4d5055"></div>
<span id="t58" class="t" style="left:1098.20px;top:548px;font-size:14px;font-weight:400;color:#52565c;letter-spacing:0.000px;transform:scaleX(0.9006);transform-origin:0 0;">PREJSŤ NA DETAIL</span>
<div class="dot" style="top:593px;border-color:#cb2e66;box-shadow:0 0 0 .350px #cb2e66,0 0 2.500px #cb2e6677"></div>
<svg class="ic" style="left:1012.0px;top:607.0px;width:24px;height:24px;color:#454a52;" viewBox="0 0 24 24"><g fill="none" stroke="currentColor" stroke-linecap="round"><ellipse cx="12.200" cy="7.900" rx="6.900" ry="7.250" stroke-width="1.250"/><path stroke-width="1.300" d="M8.300 6.200A5 5 0 0 1 11.400 3.400"/><path stroke-width="1" d="M12.200 15.300L12.500 18.200L13.300 19.900L12.300 23"/></g></svg>
<span id="t59" class="t" style="left:856.70px;top:608px;font-size:12.5px;font-weight:700;color:#767676;letter-spacing:0.484px;">14. FEBRUÁR, 2025</span>
<span id="t60" class="t" style="left:1082.70px;top:605px;font-size:19.2px;font-weight:400;color:#161616;letter-spacing:0.239px;transform:scaleX(1.0550);transform-origin:0 0;">Narodeniny pracovníka</span>
<span id="t64" class="t" style="left:1082.20px;top:645px;font-size:14px;font-weight:400;color:#171717;letter-spacing:0.000px;"><span id="d61" style="font-weight:400;letter-spacing:0.086px">Pracovník&nbsp;</span><span id="d62" style="font-weight:700;letter-spacing:0.205px">Anna Zelená</span><span id="d63" style="font-weight:400;letter-spacing:0.536px">&nbsp;má&nbsp;narodeniny</span></span>
<div class="pill" style="left:1082px;top:671px;width:150px;height:32px;border-radius:16px;border-color:#4d5055"></div>
<span id="t65" class="t" style="left:1098.20px;top:680px;font-size:14px;font-weight:400;color:#52565c;letter-spacing:0.000px;transform:scaleX(0.9006);transform-origin:0 0;">PREJSŤ NA DETAIL</span>
<div class="dot" style="top:725px;border-color:#c4d85c;box-shadow:0 0 0 .350px #c4d85c,0 0 2.500px #c4d85c77"></div>
<svg class="ic" style="left:1012.0px;top:739.3px;width:24px;height:24px;color:#454a52;" viewBox="0 0 24 24"><path fill="currentColor" d="M1.630 .350L5.300 2.620L6.580 3.890L6.930 5.800L14.350 13.220L13.220 14.350L5.800 6.930L3.890 6.580L2.620 5.300L.350 1.630Z"/><path fill="currentColor" stroke="currentColor" stroke-width="1.200" stroke-linejoin="round" d="M15.700 13.100L22.900 20.300L20.300 22.900L13.100 15.700Z"/><path fill="none" stroke="#fff" stroke-opacity=".85" stroke-width="1.300" stroke-linecap="round" d="M16.600 16.600L20.300 20.300"/><g fill="none" stroke="currentColor"><path stroke-width="3.300" d="M7 17L17.600 6.400"/><circle cx="4.600" cy="19.400" r="3.500" stroke-width="1.900"/><path stroke-width="2.400" d="M18.960 .760A3.700 3.700 0 1 0 23.240 5.040"/></g></svg>
<span id="t66" class="t" style="left:856.70px;top:740px;font-size:12.5px;font-weight:700;color:#767676;letter-spacing:0.484px;">18. FEBRUÁR, 2025</span>
<span id="t67" class="t" style="left:1082.70px;top:737px;font-size:19.2px;font-weight:400;color:#161616;letter-spacing:0.394px;transform:scaleX(1.0550);transform-origin:0 0;">Notifikácia pracovného prostriedku</span>
<span id="t70" class="t" style="left:1082.20px;top:777px;font-size:14px;font-weight:400;color:#171717;letter-spacing:0.000px;"><span id="d68" style="font-weight:400;letter-spacing:0.478px">Notifikácia&nbsp;pracovného&nbsp;prostriedku&nbsp;</span><span id="d69" style="font-weight:700;letter-spacing:0.222px">Porsche - Havarijné poistenie</span></span>
<div class="pill" style="left:1082px;top:803px;width:150px;height:32px;border-radius:16px;border-color:#4d5055"></div>
<span id="t71" class="t" style="left:1098.20px;top:812px;font-size:14px;font-weight:400;color:#52565c;letter-spacing:0.000px;transform:scaleX(0.9006);transform-origin:0 0;">PREJSŤ NA DETAIL</span>
<div class="dot" style="top:857px;border-color:#c4d85c;box-shadow:0 0 0 .350px #c4d85c,0 0 2.500px #c4d85c77"></div>
<svg class="ic" style="left:1012.0px;top:871.3px;width:24px;height:24px;color:#454a52;" viewBox="0 0 24 24"><path fill="currentColor" d="M1.630 .350L5.300 2.620L6.580 3.890L6.930 5.800L14.350 13.220L13.220 14.350L5.800 6.930L3.890 6.580L2.620 5.300L.350 1.630Z"/><path fill="currentColor" stroke="currentColor" stroke-width="1.200" stroke-linejoin="round" d="M15.700 13.100L22.900 20.300L20.300 22.900L13.100 15.700Z"/><path fill="none" stroke="#fff" stroke-opacity=".85" stroke-width="1.300" stroke-linecap="round" d="M16.600 16.600L20.300 20.300"/><g fill="none" stroke="currentColor"><path stroke-width="3.300" d="M7 17L17.600 6.400"/><circle cx="4.600" cy="19.400" r="3.500" stroke-width="1.900"/><path stroke-width="2.400" d="M18.960 .760A3.700 3.700 0 1 0 23.240 5.040"/></g></svg>
<span id="t72" class="t" style="left:856.70px;top:872px;font-size:12.5px;font-weight:700;color:#767676;letter-spacing:0.484px;">24. FEBRUÁR, 2025</span>
<span id="t73" class="t" style="left:1082.70px;top:869px;font-size:19.2px;font-weight:400;color:#161616;letter-spacing:0.394px;transform:scaleX(1.0550);transform-origin:0 0;">Notifikácia pracovného prostriedku</span>
<span id="t76" class="t" style="left:1082.20px;top:909px;font-size:14px;font-weight:400;color:#171717;letter-spacing:0.000px;"><span id="d74" style="font-weight:400;letter-spacing:0.478px">Notifikácia&nbsp;pracovného&nbsp;prostriedku&nbsp;</span><span id="d75" style="font-weight:700;letter-spacing:-0.322px">Porsche - STK</span></span>
<div class="pill" style="left:1082px;top:935px;width:150px;height:32px;border-radius:16px;border-color:#4d5055"></div>
<span id="t77" class="t" style="left:1098.20px;top:944px;font-size:14px;font-weight:400;color:#52565c;letter-spacing:0.000px;transform:scaleX(0.9006);transform-origin:0 0;">PREJSŤ NA DETAIL</span>
</div></div>
<div class="abs" style="left:1880px;top:367px;width:10px;height:135px;border-radius:5px;background:#c9c9c9"></div>
<div class="abs" style="left:0;top:946px;width:1913px;height:1px;background:#d6d9de"></div>
</body></html>
